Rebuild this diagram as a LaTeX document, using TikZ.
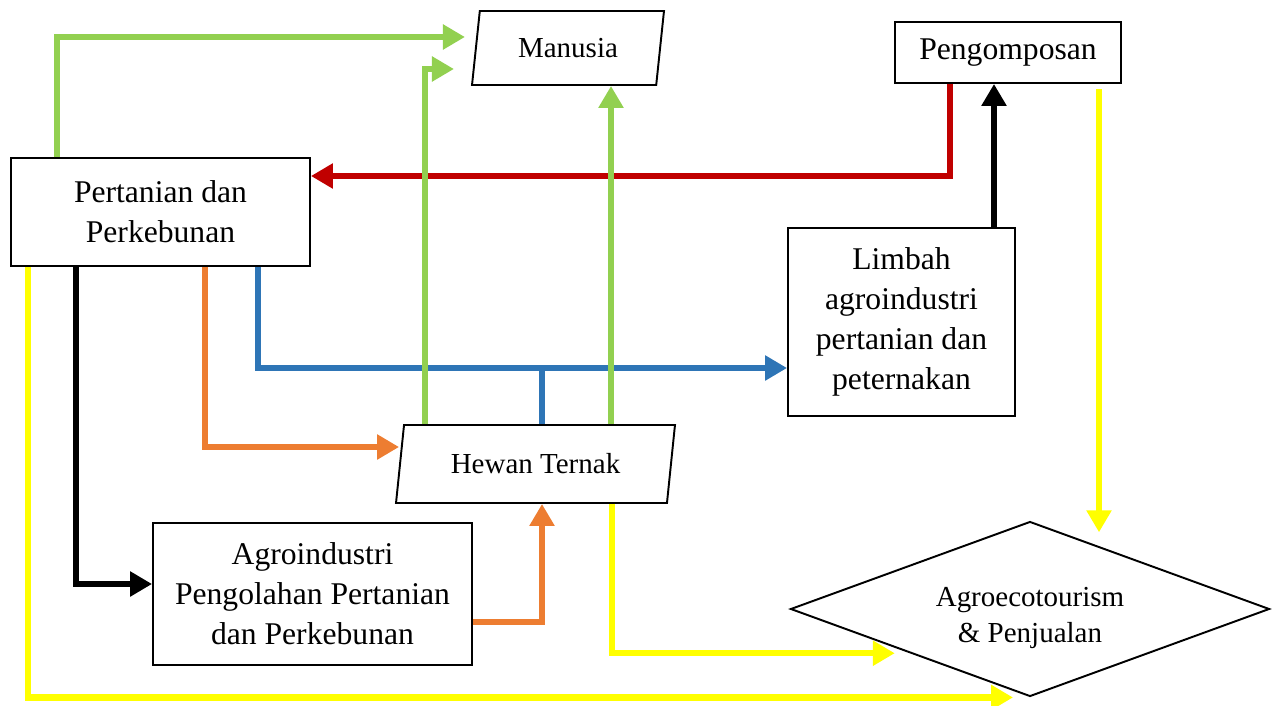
\documentclass[tikz,border=0pt]{standalone}
\usepackage{fontspec}
\setmainfont{Liberation Serif}
\usetikzlibrary{shapes.geometric,arrows.meta}
\definecolor{hijau}{HTML}{92D050}
\definecolor{merah}{HTML}{C00000}
\definecolor{biru}{HTML}{2E75B6}
\definecolor{oranye}{HTML}{ED7D31}
\definecolor{kuning}{HTML}{FFFF00}

\begin{document}
\begin{tikzpicture}[x = 0.02cm, y = -0.02cm,
    box/.style = {rectangle, draw, line width = 1.1pt, fill = white, align = center, font = \fontsize{18}{22.8}\selectfont},
    slant/.style = {trapezium, trapezium left angle = 76, trapezium right angle = 104, trapezium stretches body, draw, line width = 1.1pt, fill = white, font = \fontsize{16.5}{20}\selectfont},
    choice/.style = {diamond, draw, line width = 1.1pt, fill = white, aspect = 2.74, align = center, text height = 41.6pt, font = \fontsize{16.5}{20.5}\selectfont},
    flow/.style = {line width = 0.13cm, -{Triangle[length = 0.44cm, width = 0.48cm]}}]
    \useasboundingbox (0, 0) rectangle (1277, 706);
    \node [box, minimum width = 5.98cm, minimum height = 2.16cm] (pertanian) at (160.5, 212) {Pertanian dan\\Perkebunan};
    \node [slant, minimum width = 3.84cm, minimum height = 1.48cm] (manusia) at (568, 48) {Manusia};
    \node [box, minimum width = 4.52cm, minimum height = 1.22cm] (kompos) at (1008, 52.5) {Pengomposan};
    \node [box, minimum width = 4.54cm, minimum height = 3.76cm] (limbah) at (901.5, 322) {Limbah\\agroindustri\\pertanian dan\\peternakan};
    \node [slant, minimum width = 5.58cm, minimum height = 1.56cm] (hewan) at (535.5, 464) {Hewan Ternak};
    \node [box, minimum width = 6.38cm, minimum height = 2.84cm] (agro) at (312.5, 594) {Agroindustri\\Pengolahan Pertanian\\dan Perkebunan};
    \node [choice, minimum width = 9.58cm, minimum height = 3.5cm] (wisata) at (1030, 609) {Agroecotourism\\\& Penjualan};
    \coordinate (cabang) at (542, 368);

    \draw [flow, merah] (kompos.south -| 950,0) |- (pertanian.east |- 0,176);
    \draw [flow] (limbah.north -| 994,0) -- (kompos.south -| 994,0);
    \draw [flow, kuning, shorten <= 0.1cm, shorten >= 0.65cm] (kompos.south -| 1099,0) -- (wisata.north east -| 1099,0);
    \draw [flow] (pertanian.south -| 76,0) |- (agro.west |- 0,584);
    \draw [flow, oranye] (pertanian.south -| 205,0) |- (hewan.west |- 0,447);
    \draw [flow, oranye] (agro.east |- 0,622) -| (hewan.south -| cabang);
    \draw [flow, biru] (pertanian.south -| 258,0) |- (cabang) -- (limbah.west |- cabang);
    \draw [line width = 0.13cm, biru] (hewan.north -| cabang) -- (cabang);
    \draw [flow, kuning, shorten >= 0.3cm] (hewan.south -| 612,0) |- (wisata.south west);
    \draw [flow, kuning, shorten >= 0.34cm] (pertanian.south -| 28,0) |- (wisata.south);
    \draw [flow, hijau, shorten >= 0.2cm] (pertanian.north -| 57,0) |- (manusia.west |- 0,37);
    \draw [flow, hijau, shorten >= 0.42cm] (hewan.north -| 425,0) |- (manusia.west |- 0,69);
    \draw [flow, hijau] (hewan.north -| 611,0) -- (manusia.south -| 611,0);
\end{tikzpicture}
\end{document}
